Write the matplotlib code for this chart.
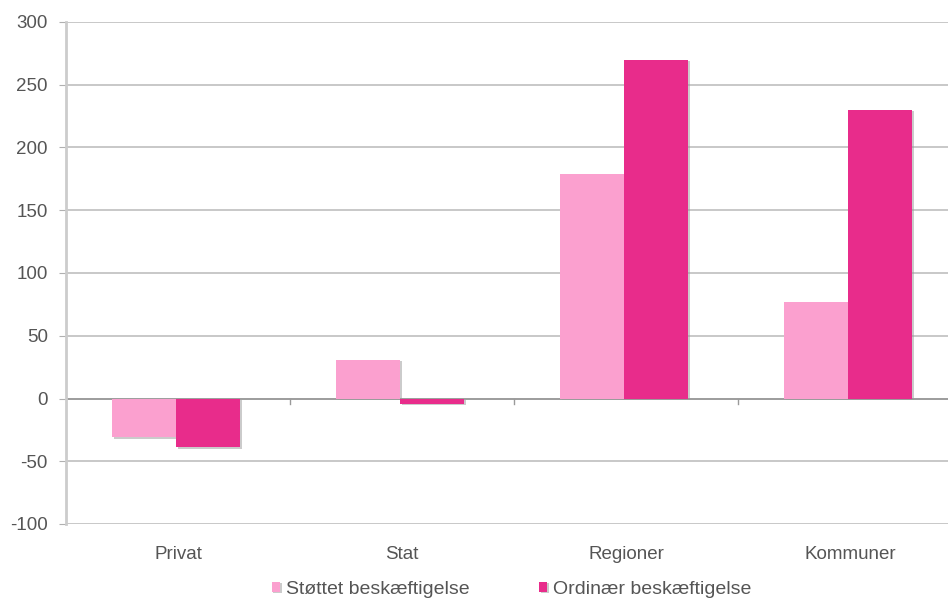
import matplotlib
matplotlib.use("Agg")
import matplotlib.pyplot as plt
import matplotlib.patheffects as pe
import numpy as np

categories = ["Privat", "Stat", "Regioner", "Kommuner"]
stottet = [-31, 31, 179, 77]
ordinaer = [-39, -4, 270, 230]
series_names = ["Støttet beskæftigelse", "Ordinær beskæftigelse"]
colors = ["#FBA0CF", "#E82C8B"]
yticks = [-100, -50, 0, 50, 100, 150, 200, 250, 300]

plt.rcParams["font.family"] = ["Liberation Sans", "DejaVu Sans"]

W, H = 948, 599
fig = plt.figure(figsize=(W / 100, H / 100), dpi=100, facecolor="w")
ax = fig.add_axes((66 / W, 1 - 524 / H, 1 - 66 / W, (524 - 22) / H))

x = np.arange(len(categories))
width = 0.286
shadow = [pe.SimplePatchShadow(offset=(1, -1), shadow_rgbFace="#999999", alpha=0.5), pe.Normal()]
for i, (vals, name) in enumerate(zip([stottet, ordinaer], series_names)):
    bars = ax.bar(x + (i - 0.5) * width - 0.008, vals, width, color=colors[i], label=name, zorder=3)
    for b in bars:
        b.set_path_effects(shadow)

ax.set_ylim(-100, 300)
ax.set_xlim(-0.5, 3.5 - 14 / 224)
ax.set_yticks(yticks)
ax.set_yticklabels([str(t) for t in yticks])
ax.yaxis.grid(True, color="#c4c4c4", linewidth=1.3, zorder=0)
ax.axhline(0, color="#9a9a9a", linewidth=1.3, zorder=2)

for s in ["top", "right", "bottom"]:
    ax.spines[s].set_visible(False)
ax.spines["left"].set_color("#cccccc")
ax.spines["left"].set_linewidth(2)

ax.tick_params(axis="y", length=5, color="#b0b0b0", labelsize=13.5, labelcolor="#555555", pad=8)
ax.set_xticks(x)
ax.set_xticklabels(categories)
ax.tick_params(axis="x", length=0, labelsize=13.5, labelcolor="#555555", pad=16)

# small separators between category groups on the zero line
for b in x[:-1] + 0.5:
    ax.plot([b, b], [0, -4], color="#9a9a9a", linewidth=1, zorder=2)

ax.legend(loc="center left", bbox_to_anchor=(272 / W, 1 - 589 / H), bbox_transform=fig.transFigure,
          ncol=2, frameon=False, fontsize=14, labelcolor="#555555", handlelength=0.42,
          handleheight=0.42, handletextpad=0.28, columnspacing=3.6, borderaxespad=0, borderpad=0)

fig.savefig("out.png", dpi=100)
